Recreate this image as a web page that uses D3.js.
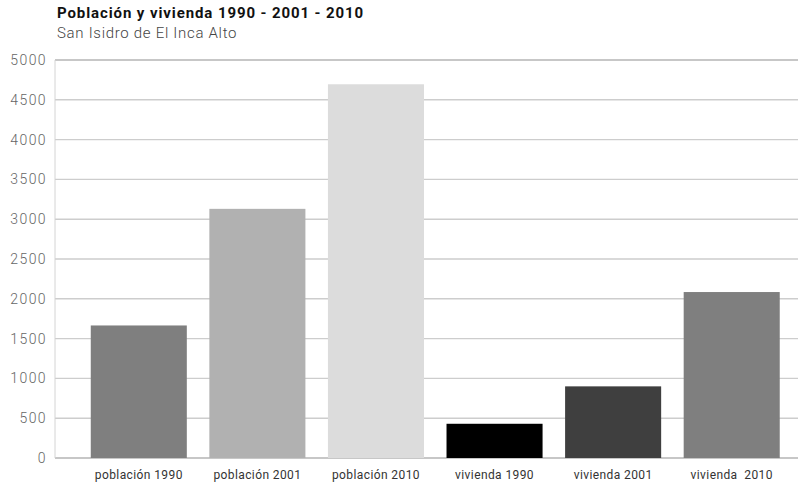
<!DOCTYPE html>
<html><head><meta charset="utf-8">
<script src="https://cdn.jsdelivr.net/npm/d3@7"></script>
<style>body{margin:0;background:#fff}svg{display:block}</style>
</head><body>
<svg id="c" width="798" height="487"></svg>
<script>
const categories = ["población 1990","población 2001","población 2010","vivienda 1990","vivienda 2001","vivienda  2010"];
const values = [1665, 3130, 4695, 430, 900, 2085];
const barColors = ["#7f7f7f","#b1b1b1","#dcdcdc","#000000","#3f3f3f","#7f7f7f"];
const yTicks = [0,500,1000,1500,2000,2500,3000,3500,4000,4500,5000];
const title = "Población y vivienda 1990 - 2001 - 2010";
const subtitle = "San Isidro de El Inca Alto";

const svg = d3.select("#c");
const y = d3.scaleLinear().domain([0,5000]).range([458,60]);
const x = d3.scaleBand().domain(categories).range([79.5,791]).paddingInner(0.19).paddingOuter(0.095);

// gridlines
svg.append("g").selectAll("line").data(yTicks).join("line")
  .attr("x1",55).attr("x2",798)
  .attr("y1",d=>y(d)).attr("y2",d=>y(d))
  .attr("stroke",d=>d===0||d===5000?"#b4b4b4":"#cdcdcd").attr("stroke-width",1.4);
// vertical axis line
svg.append("line").attr("x1",55).attr("x2",55).attr("y1",y(5000)).attr("y2",y(0))
  .attr("stroke","#d4d4d4").attr("stroke-width",1);

// bars
svg.append("g").selectAll("rect").data(values).join("rect")
  .attr("x",(d,i)=>x(categories[i])).attr("width",x.bandwidth())
  .attr("y",d=>y(d)).attr("height",d=>y(0)-y(d))
  .attr("fill",(d,i)=>barColors[i]);

// y axis labels
const yAxis = d3.axisLeft(y).tickValues(yTicks).tickSize(0).tickPadding(8).tickFormat(d3.format("d"));
const ga = svg.append("g").attr("transform","translate(55,0)").call(yAxis);
ga.select(".domain").remove();
ga.selectAll("text").attr("font-family","Roboto, sans-serif").attr("font-size",14)
  .attr("letter-spacing","1.4px").attr("fill","#666").attr("font-weight",300);

// x axis labels
const xAxis = d3.axisBottom(x).tickSize(0).tickPadding(12);
const gx = svg.append("g").attr("transform","translate(0,"+y(0)+")").call(xAxis);
gx.select(".domain").remove();
gx.selectAll("text").attr("font-family","Roboto, sans-serif").attr("font-size",12)
  .attr("letter-spacing","0.4px")
  .attr("fill","#333").attr("xml:space","preserve").style("white-space","pre");

// titles
svg.append("text").attr("x",57).attr("y",18).text(title)
  .attr("font-family","Roboto, sans-serif").attr("font-weight",700).attr("font-size",15)
  .attr("letter-spacing","0.9px").attr("fill","#111");
svg.append("text").attr("x",57).attr("y",38).text(subtitle)
  .attr("font-family","Roboto, sans-serif").attr("font-weight",300).attr("font-size",15)
  .attr("letter-spacing","0.7px").attr("fill","#444");
</script>
</body></html>
